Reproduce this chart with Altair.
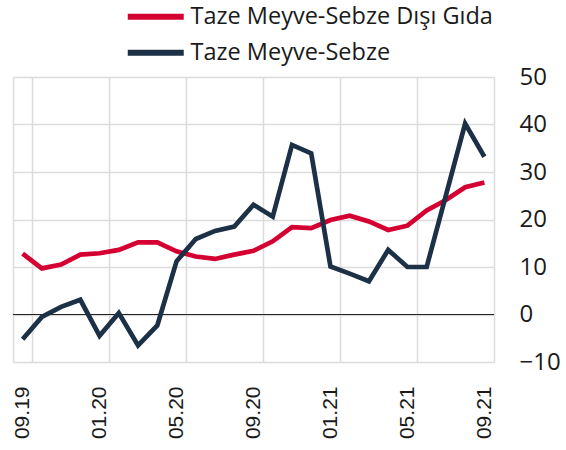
import altair as alt
import pandas as pd

months = ["09.19", "10.19", "11.19", "12.19", "01.20", "02.20", "03.20", "04.20",
          "05.20", "06.20", "07.20", "08.20", "09.20", "10.20", "11.20", "12.20",
          "01.21", "02.21", "03.21", "04.21", "05.21", "06.21", "07.21", "08.21", "09.21"]
label_months = ["09.19", "01.20", "05.20", "09.20", "01.21", "05.21", "09.21"]

series_names = ["Taze Meyve-Sebze Dışı Gıda", "Taze Meyve-Sebze"]
series_colors = ["#D50032", "#1C3046"]

non_fresh = [12.8, 9.7, 10.5, 12.6, 12.9, 13.6, 15.2, 15.2, 13.3, 12.2, 11.7, 12.6, 13.4,
             15.4, 18.4, 18.2, 19.9, 20.8, 19.6, 17.8, 18.7, 21.9, 24.1, 26.8, 27.8]
fresh = [-5.2, -0.5, 1.6, 3.1, -4.5, 0.3, -6.5, -2.3, 11.2, 15.9, 17.6, 18.5, 23.1,
         20.6, 35.7, 33.9, 10.1, 8.6, 7.0, 13.6, 10.0, 10.0, 25.1, 40.2, 33.2]

df = pd.concat([
    pd.DataFrame({"month": months, "value": non_fresh, "series": series_names[0]}),
    pd.DataFrame({"month": months, "value": fresh, "series": series_names[1]}),
], ignore_index=True)

zero = pd.DataFrame({"y": [0]})

x_enc = alt.X("month:O", sort=months, bandPosition=0.5,
              scale=alt.Scale(type="band", domain=months, paddingInner=0, paddingOuter=0),
              axis=alt.Axis(title=None, values=label_months, labelAngle=270, labelFontSize=21,
                            labelPadding=24, ticks=False, domain=False, grid=True,
                            tickBand="extent", gridColor="#dcdcdc", gridWidth=1.5,
                            labelColor="#1a1a1a", labelFont="Liberation Sans"))
y_enc = alt.Y("value:Q",
              scale=alt.Scale(domain=[-10, 50], nice=False, zero=False),
              axis=alt.Axis(title=None, orient="right", values=[-10, 0, 10, 20, 30, 40, 50],
                            labelFontSize=24, labelPadding=25, ticks=False, domain=False,
                            gridColor="#dcdcdc", gridWidth=1.5, labelColor="#1a1a1a",
                            labelFont="Open Sans"))

lines = alt.Chart(df).mark_line(strokeWidth=4.7, strokeJoin="miter").encode(
    x=x_enc,
    y=y_enc,
    color=alt.Color("series:N",
                    scale=alt.Scale(domain=series_names, range=series_colors),
                    legend=alt.Legend(title=None, orient="none", legendX=108, legendY=-72,
                                      direction="vertical", labelFontSize=23.5,
                                      labelFont="Open Sans", labelColor="#1a1a1a",
                                      labelLimit=0,
                                      symbolType="M-1,0H10.2", symbolSize=100,
                                      symbolStrokeWidth=6, labelOffset=46,
                                      rowPadding=11, padding=0)),
)

zero_rule = alt.Chart(zero).mark_rule(color="#222222", strokeWidth=1).encode(y="y:Q")

chart = alt.layer(zero_rule, lines).properties(
    width=481, height=285,
    autosize=alt.AutoSizeParams(type="none"),
    padding={"left": 13, "top": 77, "right": 72, "bottom": 88},
).configure_view(stroke=None)

chart.save("out.html", embed_options={"renderer": "svg", "actions": False})
